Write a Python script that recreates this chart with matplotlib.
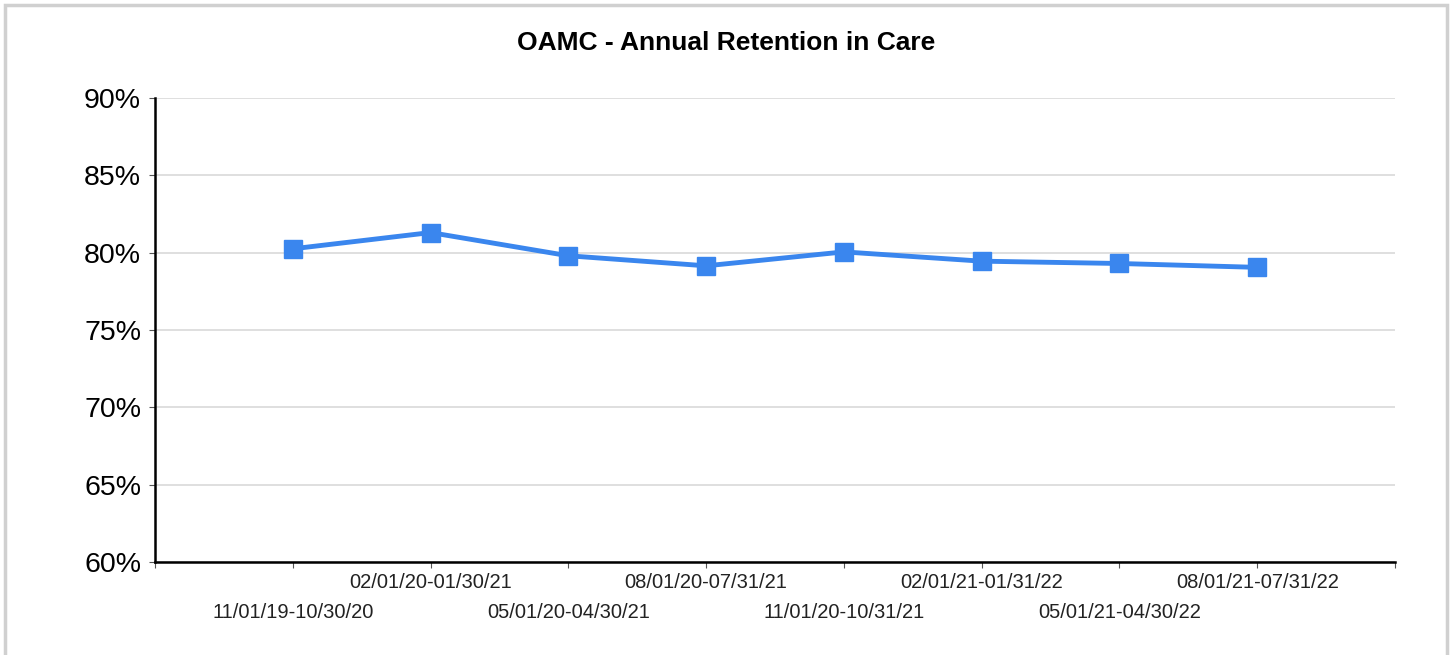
import matplotlib.pyplot as plt
from matplotlib.patches import Rectangle

plt.rcParams['font.family'] = ['Liberation Sans', 'DejaVu Sans']

# Data
periods = [
    "11/01/19-10/30/20", "02/01/20-01/30/21", "05/01/20-04/30/21",
    "08/01/20-07/31/21", "11/01/20-10/31/21", "02/01/21-01/31/22",
    "05/01/21-04/30/22", "08/01/21-07/31/22",
]
retention = [80.25, 81.3, 79.8, 79.15, 80.05, 79.45, 79.3, 79.05]
y_ticks = [60, 65, 70, 75, 80, 85, 90]

fig = plt.figure(figsize=(14.55, 6.55), dpi=100)
fig.patch.set_facecolor('white')

# light gray frame round the chart
fig.patches.append(Rectangle((5 / 1455, -0.05), 1442 / 1455, 1.05 - 5 / 655,
                             transform=fig.transFigure, fill=False,
                             edgecolor='#d0d0d0', linewidth=2.5))

ax = fig.add_axes([155 / 1455, 1 - 562 / 655, 1240 / 1455, 464 / 655])

x = list(range(1, len(periods) + 1))
ax.plot(x, retention, color='#3a86ee', linewidth=3.5, marker='s',
        markersize=13, markerfacecolor='#3a86ee', markeredgecolor='#3a86ee',
        zorder=3)

ax.set_xlim(0, len(periods) + 1)
ax.set_ylim(60, 90)
ax.set_yticks(y_ticks)
ax.set_yticklabels([f"{v}%" for v in y_ticks], fontsize=20.5)
ax.set_xticks(range(0, len(periods) + 2))
ax.set_xticklabels([])
ax.tick_params(axis='x', length=4, color='#555555')
ax.tick_params(axis='y', length=4, color='#555555', pad=6)

ax.grid(axis='y', color='#d9d9d9', linewidth=1.2)
ax.set_axisbelow(True)
for side in ['top', 'right']:
    ax.spines[side].set_visible(False)
ax.spines['left'].set_linewidth(1.8)
ax.spines['bottom'].set_linewidth(1.8)

# staggered category labels
for i, lab in enumerate(periods):
    off = -51 if i % 2 == 0 else -20
    ax.annotate(lab, xy=(x[i], 0), xycoords=('data', 'axes fraction'),
                xytext=(0, off * 0.72), textcoords='offset points',
                ha='center', va='center', fontsize=14.5, color='#222222')

fig.text(726 / 1455, 1 - 43 / 655, "OAMC - Annual Retention in Care",
         ha='center', va='center', fontsize=19, fontweight='bold')

fig.savefig('out.png', dpi=100)
